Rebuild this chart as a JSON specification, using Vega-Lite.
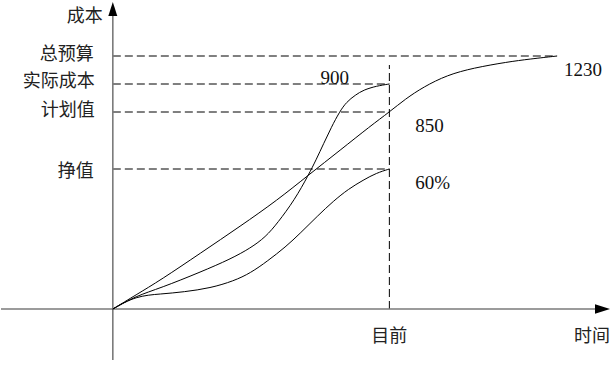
{
  "$schema": "https://vega.github.io/schema/vega-lite/v6.json",
  "width": 612,
  "height": 366,
  "padding": 0,
  "autosize": {"type": "fit", "contains": "padding"},
  "background": "white",
  "config": {"view": {"stroke": null}},
  "datasets": {
    "dashes": [
      {"t1": 0, "t2": 445, "c1": 253, "c2": 253},
      {"t1": 0, "t2": 277, "c1": 225, "c2": 225},
      {"t1": 0, "t2": 277, "c1": 197, "c2": 197},
      {"t1": 0, "t2": 277, "c1": 140, "c2": 140},
      {"t1": 277, "t2": 277, "c1": 0, "c2": 244}
    ],
    "axes": [
      {"t1": 0, "t2": 0, "c1": -51, "c2": 293},
      {"t1": -112, "t2": 483, "c1": 0, "c2": 0}
    ],
    "arrowUp": [{"t": 0, "c": 293}],
    "arrowRight": [{"t": 483, "c": 0}],
    "curves": [
      {"s": "PV", "t": 0, "c": 0}, {"s": "PV", "t": 23, "c": 14}, {"s": "PV", "t": 48, "c": 29},
      {"s": "PV", "t": 88, "c": 56}, {"s": "PV", "t": 128, "c": 83}, {"s": "PV", "t": 165, "c": 109},
      {"s": "PV", "t": 196, "c": 134}, {"s": "PV", "t": 228, "c": 159}, {"s": "PV", "t": 258, "c": 183},
      {"s": "PV", "t": 277, "c": 197}, {"s": "PV", "t": 293, "c": 210}, {"s": "PV", "t": 311, "c": 222},
      {"s": "PV", "t": 335, "c": 234}, {"s": "PV", "t": 361, "c": 241}, {"s": "PV", "t": 395, "c": 247},
      {"s": "PV", "t": 418, "c": 250}, {"s": "PV", "t": 445, "c": 253},
      {"s": "AC", "t": 0, "c": 0}, {"s": "AC", "t": 23, "c": 13}, {"s": "AC", "t": 48, "c": 21},
      {"s": "AC", "t": 88, "c": 37}, {"s": "AC", "t": 118, "c": 50}, {"s": "AC", "t": 138, "c": 61},
      {"s": "AC", "t": 153, "c": 72}, {"s": "AC", "t": 165, "c": 86}, {"s": "AC", "t": 182, "c": 109},
      {"s": "AC", "t": 196, "c": 134}, {"s": "AC", "t": 204, "c": 150}, {"s": "AC", "t": 211, "c": 165},
      {"s": "AC", "t": 219, "c": 182}, {"s": "AC", "t": 227, "c": 197}, {"s": "AC", "t": 234, "c": 207},
      {"s": "AC", "t": 243, "c": 214}, {"s": "AC", "t": 251, "c": 219}, {"s": "AC", "t": 264, "c": 223},
      {"s": "AC", "t": 277, "c": 225},
      {"s": "EV", "t": 0, "c": 0}, {"s": "EV", "t": 23, "c": 13}, {"s": "EV", "t": 48, "c": 15},
      {"s": "EV", "t": 71, "c": 17}, {"s": "EV", "t": 98, "c": 21}, {"s": "EV", "t": 121, "c": 28},
      {"s": "EV", "t": 138, "c": 36}, {"s": "EV", "t": 155, "c": 48}, {"s": "EV", "t": 173, "c": 62},
      {"s": "EV", "t": 188, "c": 76}, {"s": "EV", "t": 205, "c": 93}, {"s": "EV", "t": 221, "c": 108},
      {"s": "EV", "t": 236, "c": 120}, {"s": "EV", "t": 251, "c": 129}, {"s": "EV", "t": 264, "c": 136},
      {"s": "EV", "t": 277, "c": 140}
    ],
    "leftLabels": [
      {"label": "成本", "t": -10, "c": 292},
      {"label": "总预算", "t": -19, "c": 254},
      {"label": "实际成本", "t": -18, "c": 227},
      {"label": "计划值", "t": -18, "c": 198},
      {"label": "挣值", "t": -19, "c": 137}
    ],
    "numLabels": [
      {"label": "900", "t": 208, "c": 231},
      {"label": "850", "t": 303, "c": 183},
      {"label": "60%", "t": 303, "c": 126},
      {"label": "1230", "t": 452, "c": 239}
    ],
    "bottomLabels": [
      {"label": "目前", "t": 277, "c": -28},
      {"label": "时间", "t": 480, "c": -28}
    ]
  },
  "layer": [
    {
      "data": {"name": "dashes"},
      "mark": {"type": "rule", "color": "#000000", "strokeWidth": 1, "strokeDash": [8, 4]},
      "encoding": {
        "x": {"field": "t1", "type": "quantitative", "scale": {"domain": [-112, 500], "nice": false, "zero": false}, "axis": null},
        "x2": {"field": "t2"},
        "y": {"field": "c1", "type": "quantitative", "scale": {"domain": [-57, 309], "nice": false, "zero": false}, "axis": null},
        "y2": {"field": "c2"}
      }
    },
    {
      "data": {"name": "axes"},
      "mark": {"type": "rule", "color": "#7a7a7a", "strokeWidth": 1.6},
      "encoding": {
        "x": {"field": "t1", "type": "quantitative"},
        "x2": {"field": "t2"},
        "y": {"field": "c1", "type": "quantitative"},
        "y2": {"field": "c2"}
      }
    },
    {
      "data": {"name": "arrowUp"},
      "mark": {"type": "point", "shape": "M0,-1L0.32,0L-0.32,0Z", "filled": true, "color": "#000000", "size": 784, "opacity": 1, "strokeWidth": 0},
      "encoding": {
        "x": {"field": "t", "type": "quantitative"},
        "y": {"field": "c", "type": "quantitative"}
      }
    },
    {
      "data": {"name": "arrowRight"},
      "mark": {"type": "point", "shape": "M1,0L0,-0.32L0,0.32Z", "filled": true, "color": "#000000", "size": 900, "opacity": 1, "strokeWidth": 0},
      "encoding": {
        "x": {"field": "t", "type": "quantitative"},
        "y": {"field": "c", "type": "quantitative"}
      }
    },
    {
      "data": {"name": "curves"},
      "mark": {"type": "line", "interpolate": "basis", "strokeWidth": 1, "color": "#000000"},
      "encoding": {
        "x": {"field": "t", "type": "quantitative"},
        "y": {"field": "c", "type": "quantitative"},
        "detail": {"field": "s", "type": "nominal"}
      }
    },
    {
      "data": {"name": "leftLabels"},
      "mark": {"type": "text", "align": "right", "baseline": "middle", "font": "Noto Sans CJK SC", "fontSize": 18, "color": "#222222"},
      "encoding": {
        "x": {"field": "t", "type": "quantitative"},
        "y": {"field": "c", "type": "quantitative"},
        "text": {"field": "label"}
      }
    },
    {
      "data": {"name": "numLabels"},
      "mark": {"type": "text", "align": "left", "baseline": "middle", "font": "Liberation Serif", "fontSize": 19, "color": "#111111"},
      "encoding": {
        "x": {"field": "t", "type": "quantitative"},
        "y": {"field": "c", "type": "quantitative"},
        "text": {"field": "label"}
      }
    },
    {
      "data": {"name": "bottomLabels"},
      "mark": {"type": "text", "align": "center", "baseline": "middle", "font": "Noto Sans CJK SC", "fontSize": 18, "color": "#222222"},
      "encoding": {
        "x": {"field": "t", "type": "quantitative"},
        "y": {"field": "c", "type": "quantitative"},
        "text": {"field": "label"}
      }
    }
  ]
}
